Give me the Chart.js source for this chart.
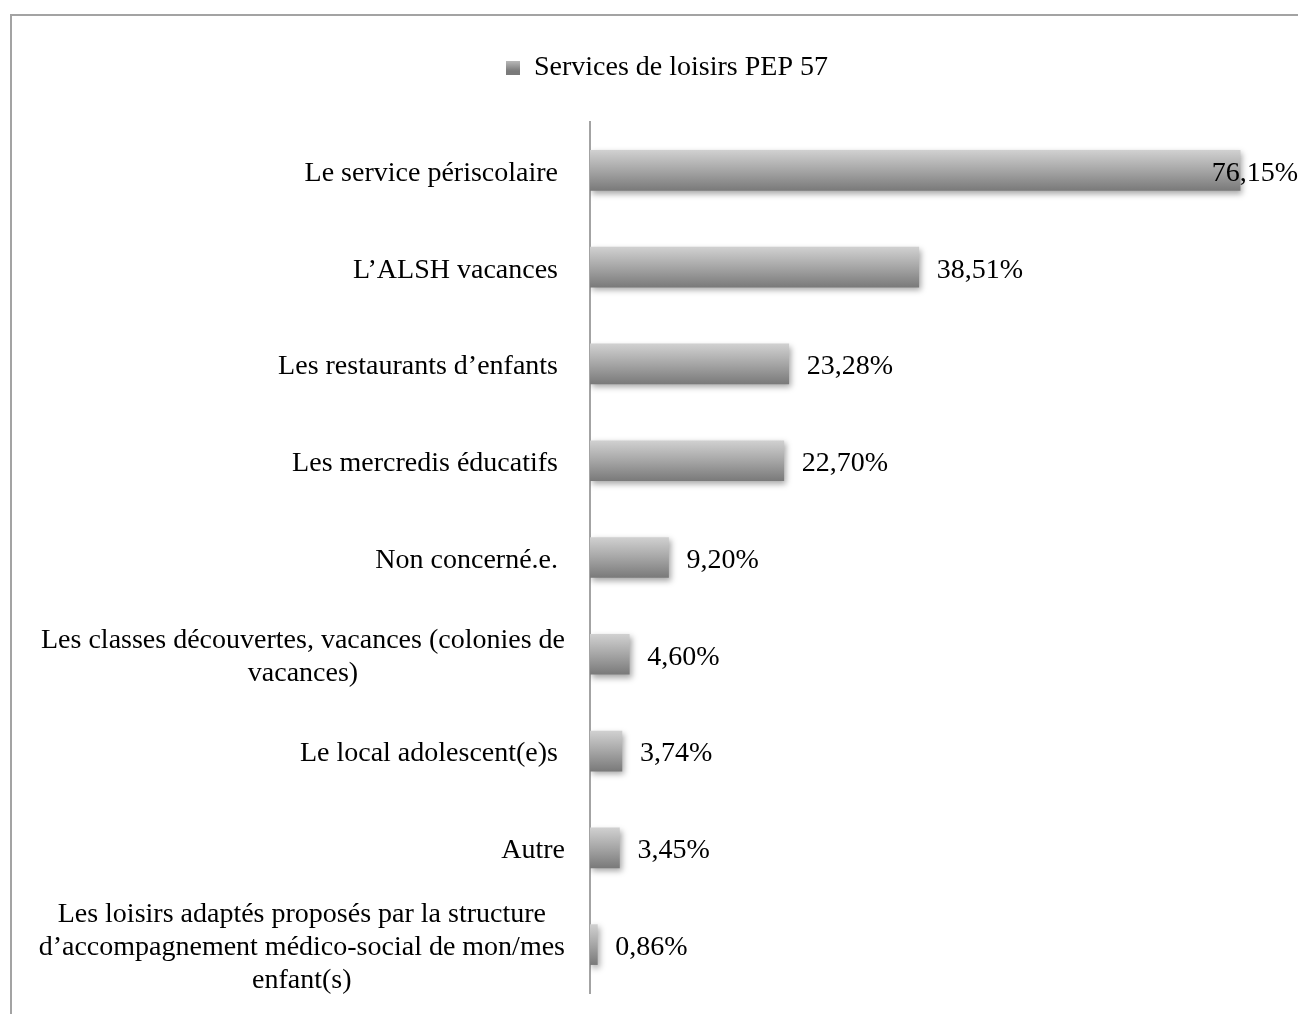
<!DOCTYPE html>
<html>
<head>
<meta charset="utf-8">
<script src="https://cdn.jsdelivr.net/npm/chart.js@4/dist/chart.umd.min.js"></script>
<style>
  body { margin: 0; background: #fff; }
  #wrap { position: relative; width: 1298px; height: 1014px; }
  #frame {
    position: absolute; left: 10px; top: 14px; width: 1400px; height: 1100px;
    border-top: 2px solid #a3a3a3; border-left: 2px solid #a3a3a3;
  }
  canvas { position: absolute; left: 0; top: 0; }
</style>
</head>
<body>
<div id="wrap">
  <div id="frame"></div>
  <canvas id="myChart" width="1298" height="1014"></canvas>
</div>
<script>
// chart data
const seriesName = 'Services de loisirs PEP 57';
const categories = [
  'Le service périscolaire ',
  'L’ALSH vacances ',
  'Les restaurants d’enfants ',
  'Les mercredis éducatifs ',
  'Non concerné.e. ',
  ['Les classes découvertes, vacances (colonies de', 'vacances)'],
  'Le local adolescent(e)s ',
  'Autre',
  ['Les loisirs adaptés proposés par la structure', 'd’accompagnement médico-social de mon/mes', 'enfant(s)']
];
const values = [76.15, 38.51, 23.28, 22.70, 9.20, 4.60, 3.74, 3.45, 0.86];

const FONT = '28px "Liberation Serif", "Times New Roman", serif';
const TEXT_COLOR = '#000';

function barGradient(ctx, top, bottom) {
  const g = ctx.createLinearGradient(0, top, 0, bottom);
  g.addColorStop(0, '#d0d0d0');
  g.addColorStop(0.5, '#a6a6a6');
  g.addColorStop(1, '#7a7a7a');
  return g;
}

// give the legend some room below it
const legendGap = {
  id: 'legendGap',
  beforeInit(chart) {
    const fit = chart.legend.fit;
    chart.legend.fit = function () {
      fit.call(this);
      this.height += 30;
    };
  }
};

// soft shadow under the bars
const barShadow = {
  id: 'barShadow',
  beforeDatasetsDraw(chart) {
    const c = chart.ctx;
    c.save();
    c.shadowColor = 'rgba(0,0,0,0.35)';
    c.shadowBlur = 6;
    c.shadowOffsetX = 2;
    c.shadowOffsetY = 3;
  },
  afterDatasetsDraw(chart) {
    chart.ctx.restore();
  }
};

// category labels: right edge fixed, multi-line blocks centred
const catLabels = {
  id: 'catLabels',
  afterDraw(chart) {
    const c = chart.ctx;
    const ys = chart.scales.y;
    const rightX = 565;
    const lineH = 33;
    c.save();
    c.font = FONT;
    c.fillStyle = TEXT_COLOR;
    c.textAlign = 'center';
    c.textBaseline = 'middle';
    categories.forEach((lbl, i) => {
      const lines = Array.isArray(lbl) ? lbl : [lbl];
      const blockW = Math.max(...lines.map(l => c.measureText(l).width));
      const cx = rightX - blockW / 2;
      const y0 = ys.getPixelForTick(i) + 3 - (lines.length - 1) * lineH / 2;
      lines.forEach((l, k) => c.fillText(l, cx, y0 + k * lineH));
    });
    c.restore();
  }
};

// value labels right of each bar
const valueLabels = {
  id: 'valueLabels',
  afterDraw(chart) {
    const c = chart.ctx;
    const meta = chart.getDatasetMeta(0);
    c.save();
    c.font = FONT;
    c.fillStyle = TEXT_COLOR;
    c.textAlign = 'left';
    c.textBaseline = 'middle';
    meta.data.forEach((bar, i) => {
      const txt = values[i].toFixed(2).replace('.', ',') + '%';
      const w = c.measureText(txt).width;
      const x = Math.min(bar.x + 18, chart.width - w);
      c.fillText(txt, x, bar.y + 3);
    });
    c.restore();
  }
};

const ctx = document.getElementById('myChart').getContext('2d');

const chart = new Chart(ctx, {
  type: 'bar',
  data: {
    labels: categories,
    datasets: [{
      label: seriesName,
      data: values,
      barThickness: 40,
      borderWidth: 0,
      backgroundColor: c => {
        const ys = c.chart.scales.y;
        if (!ys || c.dataIndex == null) return '#a6a6a6';
        const mid = ys.getPixelForValue(c.dataIndex);
        if (!isFinite(mid)) return '#a6a6a6';
        return barGradient(c.chart.ctx, mid - 20, mid + 20);
      }
    }]
  },
  options: {
    indexAxis: 'y',
    responsive: false,
    animation: false,
    layout: { padding: { top: 44, left: 61, right: 25, bottom: 21 } },
    plugins: {
      legend: {
        position: 'top',
        labels: {
          font: { family: '"Liberation Serif", "Times New Roman", serif', size: 28 },
          color: TEXT_COLOR,
          boxWidth: 14,
          boxHeight: 14,
          padding: 10,
          generateLabels: ch => {
            const items = Chart.defaults.plugins.legend.labels.generateLabels(ch);
            items.forEach(it => {
              it.fillStyle = barGradient(ch.ctx, 57, 71);
              it.lineWidth = 0;
              it.strokeStyle = 'rgba(0,0,0,0)';
            });
            return items;
          }
        }
      },
      tooltip: { enabled: false }
    },
    scales: {
      x: {
        display: false,
        min: 0,
        max: 80
      },
      y: {
        grid: { display: false },
        border: { display: true, color: '#a3a3a3', width: 2 },
        ticks: { display: false },
        afterFit(s) { s.width = 590 - 61; }
      }
    }
  },
  plugins: [legendGap, barShadow, catLabels, valueLabels]
});
</script>
</body>
</html>
